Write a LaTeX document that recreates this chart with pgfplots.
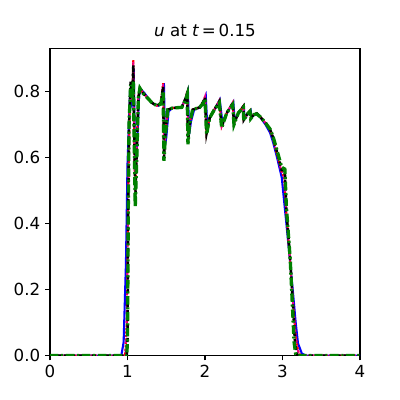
\documentclass[border=0pt]{standalone}
\usepackage{fontspec}
\setmainfont{DejaVu Sans}
\usepackage{pgfplots}
\pgfplotsset{compat=1.18}
\usetikzlibrary{calc}

\begin{document}
\begin{tikzpicture}
\begin{axis}[
  name=ax,
  scale only axis,
  width=223.2pt, height=221pt,
  xmin=0, xmax=4, ymin=0, ymax=0.93,
  xtick={0,1,2,3,4},
  ytick={0,0.2,0.4,0.6,0.8},
  xtick pos=bottom, ytick pos=left,
  yticklabel style={/pgf/number format/.cd,fixed,fixed zerofill,precision=1},
  /pgf/number format/assume math mode=true,
  tick align=outside,
  major tick length=3.5pt,
  tick style={black, line width=0.8pt},
  axis line style={line width=0.8pt},
  ticklabel style={font=\fontsize{12}{14}\selectfont},
  title={\textit{u} at \textit{t}\,=\,0.15},
  title style={font=\fontsize{12}{14}\selectfont, yshift=-1pt},
  clip=true,
]
% blue: smoother solution
\addplot[blue, line width=1.5pt] coordinates {
 (0,0) (0.92,0) (0.95,0.04) (0.98,0.28) (1.0,0.58) (1.03,0.78) (1.055,0.76)
 (1.08,0.87) (1.10,0.58) (1.12,0.62) (1.15,0.79) (1.18,0.805) (1.22,0.795)
 (1.28,0.775) (1.34,0.762) (1.40,0.757) (1.44,0.77) (1.47,0.825) (1.485,0.64)
 (1.50,0.66) (1.53,0.74) (1.58,0.75) (1.70,0.752) (1.76,0.785) (1.78,0.80)
 (1.795,0.67) (1.82,0.71) (1.86,0.745) (1.94,0.752) (1.99,0.775) (2.01,0.787)
 (2.03,0.69) (2.07,0.725) (2.13,0.748) (2.19,0.775) (2.225,0.705) (2.29,0.738)
 (2.365,0.768) (2.383,0.712) (2.44,0.737) (2.50,0.757) (2.51,0.72) (2.55,0.731)
 (2.59,0.742) (2.60,0.722) (2.64,0.73) (2.675,0.733) (2.72,0.72) (2.78,0.70)
 (2.84,0.675) (2.88,0.645) (2.93,0.60) (2.99,0.54) (3.05,0.40) (3.10,0.28)
 (3.14,0.178) (3.17,0.10) (3.20,0.037) (3.25,0.006) (3.30,0) (4,0)
};
% red dotted
\addplot[red, line width=1.5pt, densely dotted] coordinates {
 (0,0) (0.97,0) (0.99,0.10) (1.01,0.50) (1.03,0.76) (1.05,0.80) (1.06,0.77)
 (1.075,0.895) (1.09,0.60) (1.10,0.50) (1.12,0.64) (1.14,0.79) (1.16,0.808)
 (1.20,0.797) (1.26,0.78) (1.32,0.765) (1.38,0.757) (1.43,0.767) (1.46,0.825)
 (1.472,0.61) (1.49,0.68) (1.52,0.745) (1.58,0.75) (1.70,0.752) (1.75,0.78)
 (1.77,0.80) (1.782,0.65) (1.80,0.70) (1.84,0.745) (1.93,0.752) (1.98,0.77)
 (2.0,0.785) (2.02,0.675) (2.06,0.72) (2.12,0.745) (2.185,0.772) (2.215,0.695)
 (2.28,0.735) (2.357,0.766) (2.374,0.705) (2.43,0.735) (2.495,0.756)
 (2.50,0.716) (2.54,0.73) (2.58,0.742) (2.59,0.72) (2.63,0.73) (2.667,0.734)
 (2.71,0.724) (2.78,0.705) (2.84,0.683) (2.88,0.655) (2.925,0.613)
 (2.99,0.555) (3.02,0.54) (3.05,0.43) (3.10,0.28) (3.14,0.15) (3.17,0.06)
 (3.20,0.015) (3.23,0) (4,0)
};
% magenta dash-dot
\addplot[magenta, line width=1.2pt, dash pattern=on 3pt off 1.5pt on 1pt off 1.5pt] coordinates {
 (0,0) (0.97,0) (0.99,0.08) (1.01,0.48) (1.03,0.75) (1.05,0.80) (1.06,0.77)
 (1.075,0.89) (1.09,0.61) (1.10,0.49) (1.12,0.63) (1.14,0.785) (1.16,0.806)
 (1.20,0.796) (1.26,0.78) (1.32,0.765) (1.38,0.757) (1.43,0.766) (1.46,0.822)
 (1.472,0.605) (1.49,0.68) (1.52,0.745) (1.58,0.75) (1.70,0.752) (1.75,0.78)
 (1.77,0.80) (1.782,0.648) (1.80,0.70) (1.84,0.745) (1.93,0.752) (1.98,0.77)
 (2.0,0.785) (2.02,0.674) (2.06,0.72) (2.12,0.745) (2.185,0.772) (2.215,0.694)
 (2.28,0.735) (2.357,0.766) (2.374,0.704) (2.43,0.735) (2.495,0.756)
 (2.50,0.715) (2.54,0.73) (2.58,0.742) (2.59,0.72) (2.63,0.73) (2.667,0.734)
 (2.71,0.724) (2.78,0.705) (2.84,0.683) (2.88,0.655) (2.925,0.613)
 (2.99,0.556) (3.02,0.545) (3.05,0.43) (3.10,0.28) (3.14,0.145) (3.17,0.055)
 (3.20,0.012) (3.23,0) (4,0)
};
% black dashed
\addplot[black, line width=1.8pt, dash pattern=on 3pt off 2pt] coordinates {
 (0,0) (0.99,0) (1.0,0.05) (1.01,0.45) (1.02,0.70) (1.04,0.83) (1.06,0.78)
 (1.075,0.88) (1.09,0.62) (1.10,0.47) (1.12,0.62) (1.14,0.78) (1.16,0.81)
 (1.20,0.795) (1.26,0.78) (1.32,0.765) (1.38,0.757) (1.43,0.765) (1.46,0.815)
 (1.47,0.60) (1.49,0.68) (1.52,0.745) (1.58,0.75) (1.70,0.752) (1.75,0.78)
 (1.77,0.795) (1.78,0.645) (1.80,0.70) (1.84,0.745) (1.93,0.752) (1.98,0.77)
 (2.0,0.782) (2.02,0.673) (2.06,0.72) (2.12,0.745) (2.185,0.77) (2.215,0.693)
 (2.28,0.735) (2.357,0.764) (2.374,0.703) (2.43,0.735) (2.495,0.755)
 (2.50,0.714) (2.54,0.73) (2.58,0.742) (2.59,0.719) (2.63,0.73) (2.667,0.734)
 (2.71,0.724) (2.78,0.705) (2.84,0.685) (2.88,0.66) (2.925,0.62)
 (2.99,0.562) (3.03,0.56) (3.05,0.44) (3.10,0.29) (3.14,0.13) (3.16,0.04)
 (3.18,0.008) (3.20,0) (4,0)
};
% green dash-dot
\addplot[green!50!black, line width=2.4pt, dash pattern=on 6pt off 2pt on 1.5pt off 2pt] coordinates {
 (0,0) (0.99,0) (1.0,0.05) (1.01,0.44) (1.02,0.70) (1.04,0.82) (1.06,0.77)
 (1.075,0.83) (1.09,0.60) (1.10,0.45) (1.12,0.60) (1.14,0.78) (1.16,0.81)
 (1.20,0.795) (1.26,0.78) (1.32,0.765) (1.38,0.757) (1.43,0.762) (1.46,0.80)
 (1.47,0.59) (1.49,0.67) (1.52,0.745) (1.58,0.75) (1.70,0.752) (1.75,0.775)
 (1.77,0.79) (1.78,0.64) (1.80,0.70) (1.84,0.745) (1.93,0.752) (1.98,0.765)
 (2.0,0.778) (2.02,0.67) (2.06,0.72) (2.12,0.745) (2.185,0.765) (2.215,0.69)
 (2.28,0.735) (2.357,0.76) (2.374,0.70) (2.43,0.735) (2.495,0.752)
 (2.50,0.712) (2.54,0.73) (2.58,0.74) (2.59,0.718) (2.63,0.73) (2.667,0.732)
 (2.71,0.724) (2.78,0.705) (2.84,0.686) (2.88,0.662) (2.925,0.625)
 (2.99,0.57) (3.03,0.565) (3.05,0.45) (3.10,0.29) (3.13,0.14) (3.15,0.04)
 (3.17,0.005) (3.19,0) (4,0)
};
\end{axis}
\path[use as bounding box] ($(ax.south west)+(-36pt,-31.7pt)$) rectangle ($(ax.north east)+(28.8pt,35pt)$);
\end{tikzpicture}
\end{document}
